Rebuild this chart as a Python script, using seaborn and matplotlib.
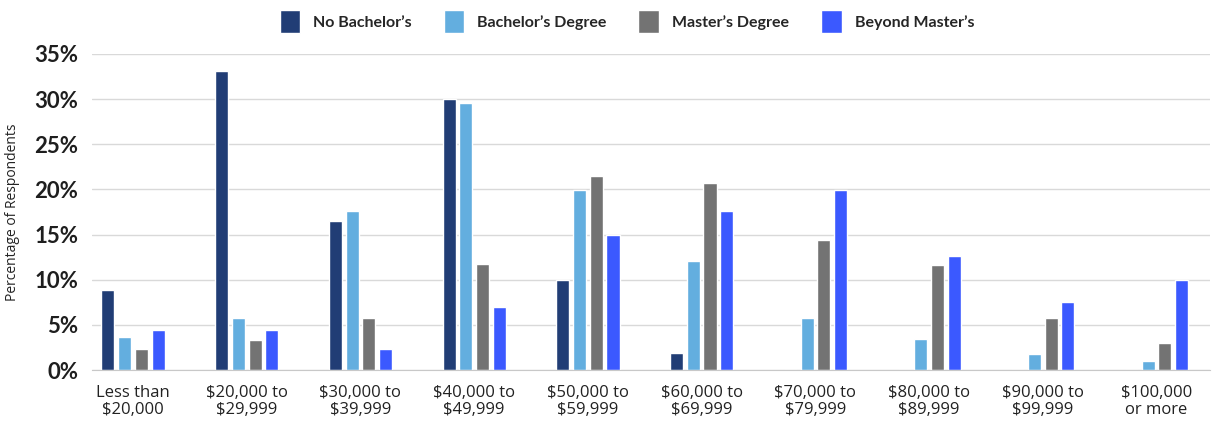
import pandas as pd
import seaborn as sns
import matplotlib.pyplot as plt
from matplotlib.ticker import FuncFormatter

categories = ["Less than\n$20,000", "$20,000 to\n$29,999", "$30,000 to\n$39,999",
              "$40,000 to\n$49,999", "$50,000 to\n$59,999", "$60,000 to\n$69,999",
              "$70,000 to\n$79,999", "$80,000 to\n$89,999", "$90,000 to\n$99,999",
              "$100,000\nor more"]
series = ["No Bachelor\u2019s", "Bachelor\u2019s Degree", "Master\u2019s Degree", "Beyond Master\u2019s"]
no_bachelors = [8.9, 33.1, 16.5, 30.0, 10.0, 1.9, 0, 0, 0, 0]
bachelors = [3.7, 5.8, 17.6, 29.6, 19.9, 12.1, 5.8, 3.4, 1.8, 1.0]
masters = [2.3, 3.3, 5.8, 11.7, 21.5, 20.7, 14.4, 11.6, 5.8, 3.0]
beyond_masters = [4.4, 4.4, 2.3, 7.0, 15.0, 17.6, 19.9, 12.6, 7.5, 10.0]
colors = ["#213D75", "#63AEDF", "#737373", "#3B59FF"]

rows = []
for name, vals in zip(series, [no_bachelors, bachelors, masters, beyond_masters]):
    for cat, v in zip(categories, vals):
        rows.append({"Income": cat, "Education": name, "Pct": v})
df = pd.DataFrame(rows)

sns.set_style("white")
plt.rcParams["font.family"] = ["Open Sans", "DejaVu Sans"]

fig = plt.figure(figsize=(12.17, 4.21), dpi=100)
ax = fig.add_axes([0.0756, 0.121, 0.9187, 0.751])
sns.barplot(data=df, x="Income", y="Pct", hue="Education", order=categories,
            hue_order=series, palette=colors, width=0.588, gap=0.22,
            saturation=1, ax=ax, legend=True)

ax.set_ylim(0, 35)
ax.set_xlim(-0.36, 9.47)
ax.set_yticks(range(0, 36, 5))
ax.yaxis.set_major_formatter(FuncFormatter(lambda v, p: f"{int(v)}%"))
for lab in ax.get_yticklabels():
    lab.set_fontfamily(["Lato", "DejaVu Sans"])
    lab.set_fontweight("bold")
    lab.set_fontsize(16)
    lab.set_color("#1e1e1e")
for lab in ax.get_xticklabels():
    lab.set_linespacing(1.08)
ax.tick_params(axis="x", labelsize=12, colors="#222222", length=0, pad=11)
ax.tick_params(axis="y", length=0, pad=10)
ax.grid(axis="y", color="#d9d9d9", linewidth=1)
ax.set_axisbelow(True)
for s in ["left", "right", "top"]:
    ax.spines[s].set_visible(False)
ax.spines["bottom"].set_color("#c8c8c8")
ax.set_xlabel("")
ax.set_ylabel("Percentage of Respondents", fontsize=10, color="#222222", labelpad=10)

handles, labels = ax.get_legend_handles_labels()
ax.legend_.remove()
fig.legend(handles, labels, loc="upper center", bbox_to_anchor=(0.515, 1.01), ncol=4,
           frameon=False, handlelength=1.3, handleheight=1.8, handletextpad=0.8,
           columnspacing=2.0, prop={"family": ["Lato", "DejaVu Sans"], "weight": "bold", "size": 11.5})

fig.savefig("out.png", dpi=100)
